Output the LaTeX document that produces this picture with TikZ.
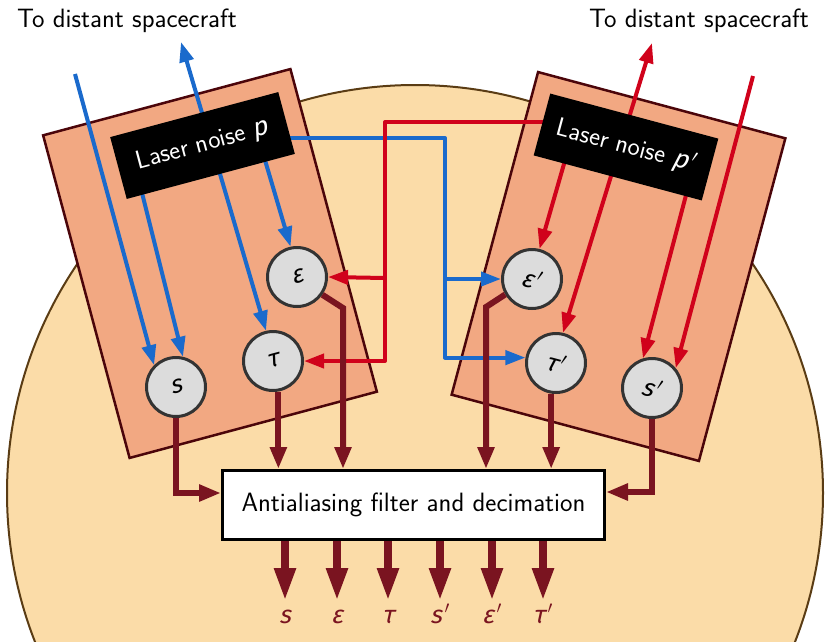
\documentclass[tikz,border=0pt]{standalone}
\usepackage{fontspec}
\usetikzlibrary{arrows.meta,calc}
\newfontfamily\mfont{Fira Sans}[FakeSlant=0.22]
\definecolor{bgc}{RGB}{251,220,168}
\definecolor{bgb}{RGB}{90,60,20}
\definecolor{rectc}{RGB}{242,168,130}
\definecolor{rectb}{RGB}{75,5,10}
\definecolor{bluec}{RGB}{26,106,204}
\definecolor{redc}{RGB}{208,2,27}
\definecolor{maroonc}{RGB}{122,20,32}
\definecolor{nodec}{RGB}{220,220,220}
\definecolor{nodeb}{RGB}{51,51,51}
\newcommand{\mv}[1]{{\mfont #1}}
\newcommand{\pr}{\kern3pt$'$}
\tikzset{
  panel/.style={draw=rectb, fill=rectc, line width=2.5pt, minimum width=256pt, minimum height=334pt, inner sep=0pt},
  laser/.style={fill=black, text=white, minimum width=174pt, minimum height=64pt, inner sep=0pt, font=\sffamily\fontsize{26}{30}\selectfont},
  circ/.style={circle, fill=nodec, draw=nodeb, line width=3pt, minimum size=59pt, inner sep=0pt, font=\fontsize{25}{30}\selectfont},
  bline/.style={draw=bluec, line width=4pt, line join=round, -{Triangle[length=20pt,width=14pt]}},
  rline/.style={draw=redc, line width=4pt, line join=round, -{Triangle[length=20pt,width=14pt]}},
  mline/.style={draw=maroonc, line width=6pt, -{Triangle[length=22pt,width=16pt]}},
  oline/.style={draw=maroonc, line width=8pt, -{Triangle[length=33pt,width=20pt]}},
  olab/.style={anchor=base, text=maroonc, font=\fontsize{25}{30}\selectfont},
  ttext/.style={anchor=base, font=\sffamily\fontsize{26.5}{31}\selectfont},
  filterbox/.style={draw=black, fill=white, line width=3pt, minimum width=382pt, minimum height=69pt, font=\sffamily\fontsize{26.5}{31}\selectfont}
}
\begin{document}
\begin{tikzpicture}[x=1pt,y=-1pt]
\useasboundingbox (0,0) rectangle (830,641);
\clip (0,0) rectangle (830,641);
% background disc
\draw[fill=bgc, draw=bgb, line width=2pt] (415,493) circle[radius=408pt];
% panels
\node[panel, rotate=15] (pl) at (210,263.5) {};
\node[panel, rotate=-15] (pr) at (618.5,266.5) {};
% measurement nodes
\node[circ] (s) at (176,387) {\rotatebox{15}{\mv{s}}};
\node[circ] (tau) at (273,361) {\rotatebox{15}{\mv{τ}}};
\node[circ] (eps) at (297,277) {\rotatebox{15}{\mv{ε}}};
\node[circ] (sp) at (652,388) {\rotatebox{-15}{\mv{s}\pr}};
\node[circ] (taup) at (556,363) {\rotatebox{-15}{\mv{τ}\pr}};
\node[circ] (epsp) at (532,279) {\rotatebox{-15}{\mv{ε}\pr}};
% filter
\node[filterbox] (filter) at (413.5,505) {Antialiasing filter and decimation};
% texts
\node[ttext] (t1) at (127,27) {To distant spacecraft};
\node[ttext] (t2) at (699,27) {To distant spacecraft};
% blue beams
\coordinate (bin) at (75,74);
\coordinate (bout) at (181,42);
\coordinate (b2) at (140,185);
\coordinate (b3) at (213,150);
\coordinate (b4) at (262,150);
\coordinate (b5) at (285,138);
\coordinate (bc) at (445,138);
\coordinate (bbr) at (445,279);
\draw[bline] (bin) -- (s.135);
\draw[bline] (b2) -- (s.77);
\draw[bline] (b3) -- (bout);
\draw[bline] (b3) -- (tau.103);
\draw[bline] (b4) -- (eps.102);
\draw[bline] (b5) -- (bc) |- (taup.170);
\draw[bline] (bbr) -- (epsp.west);
% red beams
\coordinate (rin) at (753,76);
\coordinate (rout) at (652,43);
\coordinate (r1) at (619,150);
\coordinate (r2) at (568,150);
\coordinate (r3) at (690,180);
\coordinate (r5) at (560,122);
\coordinate (rc) at (385,122);
\coordinate (rbr) at (385,278);
\draw[rline] (rin) -- (sp.40);
\draw[rline] (r3) -- (sp.107);
\draw[rline] (r1) -- (rout);
\draw[rline] (r1) -- (taup.77);
\draw[rline] (r2) -- (epsp.76);
\draw[rline] (r5) -- (rc) |- (tau.east);
\draw[rline] (rbr) -- (eps.east);
% laser boxes
\node[laser, rotate=15] (lp) at (202.5,145.5) {Laser noise \mv{p}};
\node[laser, rotate=-15] (lpp) at (626,147) {Laser noise \mv{p}\pr};
% maroon signals into filter
\coordinate (e1) at (343,308);
\coordinate (e2) at (486,307);
\draw[mline] (s.south) |- ([yshift=12pt]filter.west);
\draw[mline] (tau.-80) -- (tau.-80 |- filter.north);
\draw[mline] (eps.-35) -- (e1) -- (e1 |- filter.north);
\draw[mline] (epsp.210) -- (e2) -- (e2 |- filter.north);
\draw[mline] (taup.-99) -- (taup.-99 |- filter.north);
\draw[mline] (sp.south) |- ([yshift=13pt]filter.east);
% outputs
\node[olab] (o1) at (285,623) {\mv{s}};
\node[olab] (o2) at (337,623) {\mv{ε}};
\node[olab] (o3) at (388,623) {\mv{τ}};
\node[olab] (o4) at (440,623) {\mv{s}\pr};
\node[olab] (o5) at (492,623) {\mv{ε}\pr};
\node[olab] (o6) at (543,623) {\mv{τ}\pr};
\foreach \o in {o1,o2,o3,o4,o5,o6}{
  \draw[oline] (filter.south -| \o) -- ([yshift=22pt]\o.base);
}
\end{tikzpicture}
\end{document}
